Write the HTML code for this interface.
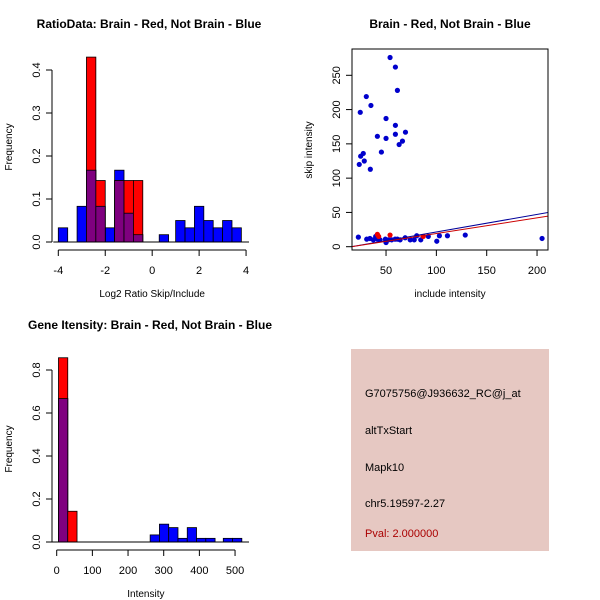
<!DOCTYPE html>
<html><head><meta charset="utf-8"><style>
body{margin:0;background:#fff;}
svg{display:block;font-family:"Liberation Sans",sans-serif;}
</style></head><body>
<svg id="c" width="600" height="600" viewBox="0 0 600 600">
<rect x="0" y="0" width="600" height="600" fill="#fff"/>
</svg>
<script>
// ---- Panel 1: ratio histogram ----
const ratioBlueStarts = [-4.0,-3.2,-2.8,-2.4,-2.0,-1.6,-1.2,-0.8,0.3,1.0,1.4,1.8,2.2,2.6,3.0,3.4];
const ratioBlueFreq   = [0.033,0.083,0.167,0.083,0.033,0.167,0.067,0.017,0.017,0.05,0.033,0.083,0.05,0.033,0.05,0.033];
const ratioRedStarts  = [-2.8,-2.4,-1.6,-1.2,-0.8];
const ratioRedFreq    = [0.43,0.143,0.143,0.143,0.143];
const ratioBinWidth = 0.4;
const ratioXTicks = [-4,-2,0,2,4];
const ratioYTicks = [0.0,0.1,0.2,0.3,0.4];
const ratioYTickLabels = ["0.0","0.1","0.2","0.3","0.4"];
// ---- Panel 2: scatter ----
const blueInclude = [54,59.3,61.3,30.4,35,24.4,50,59.3,69.3,59.3,41.4,50,66.3,63,45.4,27.4,24.8,28.4,23.4,34.4,
  22.5,30.8,34,37.4,39.7,41.4,44,49.3,50,55.6,59,64,69,74,80.5,84.5,92,100.4,103,111,128.7,205,52.3,61.3,78];
const blueSkip = [276,262,228,219,206,196,187,177,167,164,161,158,154,149,138,136,132,125,120,113,
  14,11,12,10,15,11,10,11,6,10,11,10,13,10,16,10,15,8,16,16,17,12,10,11,10];
const redInclude = [41.4,54,87,42.7];
const redSkip = [18,17,15,15];
const fitIntercepts = [-4.03,-3.6]; // blue, red
const fitSlopes = [0.2554,0.2283];
const scatXTicks = [50,100,150,200];
const scatYTicks = [0,50,100,150,200,250];
// ---- Panel 3: intensity histogram ----
const intBlueStarts = [5,262,288,314,340,366,392,418,467,493];
const intBlueFreq   = [0.667,0.033,0.083,0.067,0.017,0.067,0.017,0.017,0.017,0.017];
const intRedStarts  = [5,31];
const intRedFreq    = [0.857,0.143];
const intBinWidth = 26;
const intXTicks = [0,100,200,300,400,500];
const intYTicks = [0,0.2,0.4,0.6,0.8];
const intYTickLabels = ["0.0","0.2","0.4","0.6","0.8"];

const svg = document.getElementById('c');
const NS = 'http://www.w3.org/2000/svg';
function mk(tag, attrs, parent){
  const e = document.createElementNS(NS, tag);
  for (const k in attrs) e.setAttribute(k, attrs[k]);
  (parent||svg).appendChild(e);
  return e;
}
function txt(x,y,s,size,extra,parent){
  const t = mk('text', Object.assign({x:x,y:y,'font-size':size,'text-anchor':'middle',fill:'#000'}, extra||{}), parent);
  t.textContent = s; return t;
}

function histPanel(cfg){
  const g = mk('g', {});
  
  
  const X = v => cfg.x0 + (v - cfg.xmin) * cfg.xs;
  const Y = v => cfg.y0 - v * cfg.ys;
  const w = cfg.bw * cfg.xs;
  cfg.bs.forEach((s,i)=>{
    const r = mk('rect', {x:X(s), y:Y(cfg.bf[i]), width:w, height:cfg.bf[i]*cfg.ys, fill:'#0000ff', stroke:'#000', 'stroke-width':0.8}, g);
    
    
  });
  cfg.rs.forEach((s,i)=>{
    const r = mk('rect', {x:X(s), y:Y(cfg.rf[i]), width:w, height:cfg.rf[i]*cfg.ys, fill:'#ff0000', stroke:'#000', 'stroke-width':0.8}, g);
    
    
    const j = cfg.bs.findIndex(b => Math.abs(b - s) < cfg.bw/2);
    if (j >= 0){
      const h = Math.min(cfg.bf[j], cfg.rf[i]);
      const p = mk('rect', {x:X(s), y:Y(h), width:w, height:h*cfg.ys, fill:'#7f007f', stroke:'#000', 'stroke-width':0.8}, g);
      
      
    }
  });
  mk('line', {x1:X(cfg.xmin)-5, x2:cfg.baseEnd, y1:Y(0), y2:Y(0), stroke:'#000'}, g);
  const ax = mk('g', {}, g);
  
  
  const ay0 = cfg.axY;
  mk('line', {x1:X(cfg.xt[0]), x2:X(cfg.xt[cfg.xt.length-1]), y1:ay0, y2:ay0, stroke:'#000'}, ax);
  cfg.xt.forEach(v=>{
    mk('line', {x1:X(v), x2:X(v), y1:ay0, y2:ay0+6, stroke:'#000'}, ax);
    txt(X(v), ay0+24, String(v), 11, {}, ax);
  });
  const yx = cfg.axX;
  const yg = mk('g', {}, g);
  
  
  mk('line', {x1:yx, x2:yx, y1:Y(cfg.yt[0]), y2:Y(cfg.yt[cfg.yt.length-1]), stroke:'#000'}, yg);
  cfg.yt.forEach((v,i)=>{
    mk('line', {x1:yx-6, x2:yx, y1:Y(v), y2:Y(v), stroke:'#000'}, yg);
    txt(yx-12, Y(v), cfg.ytl[i], 11, {transform:`rotate(-90 ${yx-12} ${Y(v)})`}, yg);
  });
  const t = txt(cfg.titleX, cfg.titleY, cfg.title, 12, {'font-weight':'bold'}, g);
  
  
  const xl = txt(X(cfg.xt[0])/2 + X(cfg.xt[cfg.xt.length-1])/2, ay0+47, cfg.xlab, 10, {}, g);
  
  
  const yl = txt(12, cfg.ylY, 'Frequency', 10, {transform:`rotate(-90 12 ${cfg.ylY})`}, g);
  
  
}

histPanel({name:'ratio-histogram', xmin:-4, x0:58.3, xs:23.47, y0:242, ys:430,
  bs:ratioBlueStarts, bf:ratioBlueFreq, rs:ratioRedStarts, rf:ratioRedFreq, bw:ratioBinWidth,
  xt:ratioXTicks, yt:ratioYTicks, ytl:ratioYTickLabels, axY:250, axX:52, baseEnd:249,
  title:'RatioData: Brain - Red, Not Brain - Blue', titleX:149, titleY:28,
  xlab:'Log2 Ratio Skip/Include', ylY:147});

histPanel({name:'intensity-histogram', xmin:0, x0:56.7, xs:0.3567, y0:542, ys:215,
  bs:intBlueStarts, bf:intBlueFreq, rs:intRedStarts, rf:intRedFreq, bw:intBinWidth,
  xt:intXTicks, yt:intYTicks, ytl:intYTickLabels, axY:550, axX:52, baseEnd:249,
  title:'Gene Itensity: Brain - Red, Not Brain - Blue', titleX:150, titleY:329,
  xlab:'Intensity', ylY:449});

(function(){
  const g = mk('g', {});
  
  
  const L=352, R=548, T=49, B=250;
  const X = v => 335.7 + v*1.0067;
  const Y = v => 246.7 - v*0.6856;
  const clip = mk('clipPath', {id:'sc'}, g);
  mk('rect', {x:L, y:T, width:R-L, height:B-T}, clip);
  const pts = mk('g', {'clip-path':'url(#sc)'}, g);
  blueInclude.forEach((v,i)=>{
    const c = mk('circle', {cx:X(v), cy:Y(blueSkip[i]), r:2.6, fill:'#0000cc'}, pts);
    
    
  });
  redInclude.forEach((v,i)=>{
    const c = mk('circle', {cx:X(v), cy:Y(redSkip[i]), r:2.6, fill:'#ee0000'}, pts);
    
    
  });
  const cols = ['#000099','#cc0000'];
  fitIntercepts.forEach((a,i)=>{
    const x1=0, x2=250;
    const ln = mk('line', {x1:X(x1), y1:Y(a+fitSlopes[i]*x1), x2:X(x2), y2:Y(a+fitSlopes[i]*x2), stroke:cols[i], 'stroke-width':1}, pts);
    
    
  });
  mk('rect', {x:L, y:T, width:R-L, height:B-T, fill:'none', stroke:'#000'}, g);
  const ax = mk('g', {}, g);
  
  
  scatXTicks.forEach(v=>{
    mk('line', {x1:X(v), x2:X(v), y1:B, y2:B+6, stroke:'#000'}, ax);
    txt(X(v), B+24, String(v), 11, {}, ax);
  });
  const ay = mk('g', {}, g);
  
  
  scatYTicks.forEach(v=>{
    mk('line', {x1:L-6, x2:L, y1:Y(v), y2:Y(v), stroke:'#000'}, ay);
    txt(L-12, Y(v), String(v), 11, {transform:`rotate(-90 ${L-12} ${Y(v)})`}, ay);
  });
  const t = txt(450, 28, 'Brain - Red, Not Brain - Blue', 12, {'font-weight':'bold'}, g);
  
  
  const xl = txt(450, 297, 'include intensity', 10, {}, g);
  
  
  const yl = txt(312, 150, 'skip intensity', 10, {transform:'rotate(-90 312 150)'}, g);
  
  
})();
</script>
<svg style="position:absolute;left:0;top:0" width="600" height="600">
<g font-family="Liberation Sans, sans-serif" font-size="11">
<rect x="351" y="349" width="198" height="202" fill="#e6c8c2"/>
<text x="365" y="397" fill="#000">G7075756@J936632_RC@j_at</text>
<text x="365" y="434" fill="#000">altTxStart</text>
<text x="365" y="471" fill="#000">Mapk10</text>
<text x="365" y="507" fill="#000">chr5.19597-2.27</text>
<text x="365" y="537" fill="#aa0000">Pval: 2.000000</text>
</g>
</svg>
</body></html>
